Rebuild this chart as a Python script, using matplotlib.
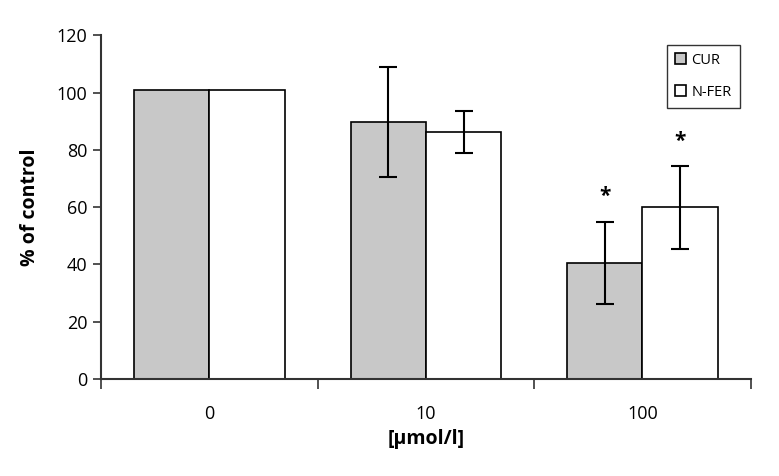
import matplotlib
matplotlib.use("Agg")
import matplotlib.pyplot as plt
import numpy as np

categories = ["0", "10", "100"]
series_names = ["CUR", "N-FER"]
cur_values = [101.0, 89.6, 40.6]
nfer_values = [101.0, 86.2, 59.9]
cur_err = [0.0, 19.2, 14.3]
nfer_err = [0.0, 7.2, 14.5]
cur_sig = [False, False, True]
nfer_sig = [False, False, True]
yticks = [0, 20, 40, 60, 80, 100, 120]

plt.rcParams['font.family'] = ['Open Sans', 'DejaVu Sans']

fig = plt.figure(figsize=(7.79, 4.76), dpi=100)
ax = fig.add_axes([0.1297, 0.2038, 0.834, 0.7222])

x = np.arange(len(categories))
w = 0.348
axis_col = "#333333"
ax.bar(x - w/2, cur_values, w, color="#c8c8c8", edgecolor="black", linewidth=1.2,
       label=series_names[0], zorder=2)
ax.bar(x + w/2, nfer_values, w, color="white", edgecolor="black", linewidth=1.2,
       label=series_names[1], zorder=2)

for xs, vals, errs in [(x - w/2, cur_values, cur_err), (x + w/2, nfer_values, nfer_err)]:
    for xi, v, e in zip(xs, vals, errs):
        if e > 0:
            ax.errorbar(xi, v, yerr=e, fmt='none', ecolor="black", elinewidth=1.5,
                        capsize=6.5, capthick=1.5, zorder=3)

for xs, vals, errs, sig in [(x - w/2, cur_values, cur_err, cur_sig), (x + w/2, nfer_values, nfer_err, nfer_sig)]:
    for xi, v, e, s in zip(xs, vals, errs, sig):
        if s:
            ax.text(xi, v + e + 5.0, "*", ha="center", va="bottom", fontsize=15,
                    fontweight="bold", color="black")

ax.set_xlim(-0.5, len(categories) - 0.5)
ax.set_ylim(0, 120)
ax.set_yticks(yticks)
ax.set_xticks(x)
ax.set_xticklabels(categories)
ax.set_xticks(np.arange(-0.5, len(categories), 1.0), minor=True)
ax.tick_params(axis='x', which='major', length=0, pad=19, labelsize=13)
ax.tick_params(axis='x', which='minor', length=7, width=1.2, color=axis_col, direction='out')
ax.tick_params(axis='y', length=6, width=1.2, color=axis_col, labelsize=13, pad=4)

for s in ["top", "right"]:
    ax.spines[s].set_visible(False)
for s in ["left", "bottom"]:
    ax.spines[s].set_color(axis_col)
    ax.spines[s].set_linewidth(1.5)

ax.set_ylabel("% of control", fontsize=14, fontweight="bold", labelpad=12)
ax.set_xlabel("[µmol/l]", fontsize=14, fontweight="bold", labelpad=4)

leg = ax.legend(loc="upper right", bbox_to_anchor=(0.983, 0.972), frameon=True, fancybox=False,
                edgecolor="black", fontsize=10.5, handlelength=0.8, handleheight=0.8,
                handletextpad=0.35, borderpad=0.55, labelspacing=1.15, borderaxespad=0)
leg.get_frame().set_linewidth(1.0)

fig.savefig("out.png", dpi=100)
